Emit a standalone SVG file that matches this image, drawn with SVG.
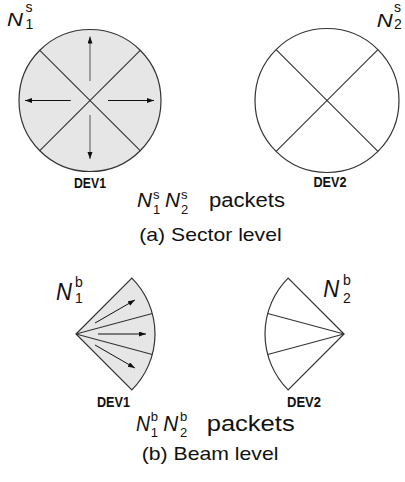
<svg xmlns="http://www.w3.org/2000/svg" width="405" height="482" viewBox="0 0 405 482">
  <defs>
    <marker id="head" markerUnits="userSpaceOnUse" markerWidth="8" markerHeight="6" refX="7" refY="2.5" orient="auto">
      <path d="M0,0 L7,2.5 L0,5 z" fill="#111"/>
    </marker>
  </defs>
  <style>
    text { font-family: "Liberation Sans", Arial, Helvetica, sans-serif; fill: #111; }
    .sym { font-style: italic; }
    .idx { font-size: 14px; }
    .cap-idx { font-size: 13px; }
    .dev { font-weight: bold; font-size: 14px; }
    .shape { stroke: #333; stroke-width: 1.2; }
    .filled { fill: #e6e6e6; }
    .open { fill: #fff; }
    .div { stroke: #333; stroke-width: 1.1; fill: none; }
    .beam { stroke: #111; stroke-width: 1; fill: none; marker-end: url(#head); }
    .beam.v { stroke: #555; }
  </style>
  <rect width="405" height="482" fill="#fff"/>

  <!-- sector level, device 1: shaded circle split into four sectors -->
  <g id="dev1-sector">
    <circle class="shape filled" cx="90" cy="100.5" r="71"/>
    <line class="div" x1="39.8" y1="50.3" x2="140.2" y2="150.7"/>
    <line class="div" x1="140.2" y1="50.3" x2="39.8" y2="150.7"/>
    <text x="7" y="26" class="sym" font-size="18" textLength="16" lengthAdjust="spacingAndGlyphs">N</text>
    <text x="25.5" y="11.7" class="idx">s</text>
    <text x="25.5" y="29" class="idx">1</text>
    <text x="90" y="188" class="dev" text-anchor="middle" textLength="32" lengthAdjust="spacingAndGlyphs">DEV1</text>
  </g>

  <!-- sector level, device 2 -->
  <g id="dev2-sector">
    <circle class="shape open" cx="327" cy="100.5" r="72"/>
    <line class="div" x1="276.1" y1="49.6" x2="377.9" y2="151.4"/>
    <line class="div" x1="377.9" y1="49.6" x2="276.1" y2="151.4"/>
    <text x="376.7" y="27.3" class="sym" font-size="18" textLength="16" lengthAdjust="spacingAndGlyphs">N</text>
    <text x="394" y="12" class="idx">s</text>
    <text x="394" y="29" class="idx">2</text>
    <text x="330" y="187.3" class="dev" text-anchor="middle" textLength="33" lengthAdjust="spacingAndGlyphs">DEV2</text>
  </g>

  <!-- sector level caption -->
  <g id="caption-a">
    <text x="137" y="206.7" class="sym" font-size="20" textLength="15" lengthAdjust="spacingAndGlyphs">N</text>
    <text x="153" y="199" class="cap-idx">s</text>
    <text x="153" y="213.5" class="cap-idx">1</text>
    <text x="165" y="206.7" class="sym" font-size="20" textLength="15" lengthAdjust="spacingAndGlyphs">N</text>
    <text x="181" y="199" class="cap-idx">s</text>
    <text x="181" y="213.5" class="cap-idx">2</text>
    <text x="209" y="206.7" font-size="19.5" textLength="76" lengthAdjust="spacingAndGlyphs">packets</text>
    <text x="139.3" y="240.7" font-size="19" textLength="142.4" lengthAdjust="spacingAndGlyphs">(a) Sector level</text>
  </g>

  <!-- beam level, device 1: shaded 90-degree fan of three beams -->
  <g id="dev1-beam">
    <path class="shape filled" d="M76,334 L131.86,278.14 A79,79 0 0 1 131.86,389.86 Z"/>
    <line class="div" x1="76" y1="334" x2="152.31" y2="313.55"/>
    <line class="div" x1="76" y1="334" x2="152.31" y2="354.45"/>
    <text x="56" y="300" class="sym" font-size="23" textLength="16" lengthAdjust="spacingAndGlyphs">N</text>
    <text x="75" y="286.7" class="idx">b</text>
    <text x="75" y="303.3" class="idx">1</text>
    <text x="113.5" y="406.5" class="dev" text-anchor="middle" textLength="33" lengthAdjust="spacingAndGlyphs">DEV1</text>
  </g>

  <!-- beam level, device 2 -->
  <g id="dev2-beam">
    <path class="shape open" d="M344,334 L288.14,278.14 A79,79 0 0 0 288.14,389.86 Z"/>
    <line class="div" x1="344" y1="334" x2="267.69" y2="313.55"/>
    <line class="div" x1="344" y1="334" x2="267.69" y2="354.45"/>
    <text x="323.3" y="296.7" class="sym" font-size="23" textLength="16" lengthAdjust="spacingAndGlyphs">N</text>
    <text x="343" y="285" class="idx">b</text>
    <text x="343" y="303.3" class="idx">2</text>
    <text x="304" y="406.5" class="dev" text-anchor="middle" textLength="34" lengthAdjust="spacingAndGlyphs">DEV2</text>
  </g>

  <!-- beam level caption -->
  <g id="caption-b">
    <text x="136" y="430.7" class="sym" font-size="22" textLength="14" lengthAdjust="spacingAndGlyphs">N</text>
    <text x="150.7" y="421" class="cap-idx">b</text>
    <text x="150.7" y="436.5" class="cap-idx">1</text>
    <text x="163.3" y="430.7" class="sym" font-size="22" textLength="15" lengthAdjust="spacingAndGlyphs">N</text>
    <text x="180" y="421" class="cap-idx">b</text>
    <text x="180" y="436.5" class="cap-idx">2</text>
    <text x="206.7" y="430.7" font-size="22" textLength="88" lengthAdjust="spacingAndGlyphs">packets</text>
    <text x="141.7" y="460" font-size="18.6" textLength="136.7" lengthAdjust="spacingAndGlyphs">(b) Beam level</text>
  </g>

  <!-- transmit directions -->
  <g id="connectors">
    <line class="beam v" x1="90" y1="81" x2="90" y2="36.5"/>
    <line class="beam v" x1="90" y1="115" x2="90" y2="159"/>
    <line class="beam" x1="70.7" y1="100.5" x2="25" y2="100.5"/>
    <line class="beam" x1="108" y1="100.5" x2="154" y2="100.5"/>
    <line class="beam" x1="95.05" y1="323" x2="134.9" y2="300"/>
    <line class="beam" x1="98" y1="334" x2="146" y2="334"/>
    <line class="beam" x1="95.05" y1="345" x2="134.9" y2="368"/>
  </g>
</svg>
